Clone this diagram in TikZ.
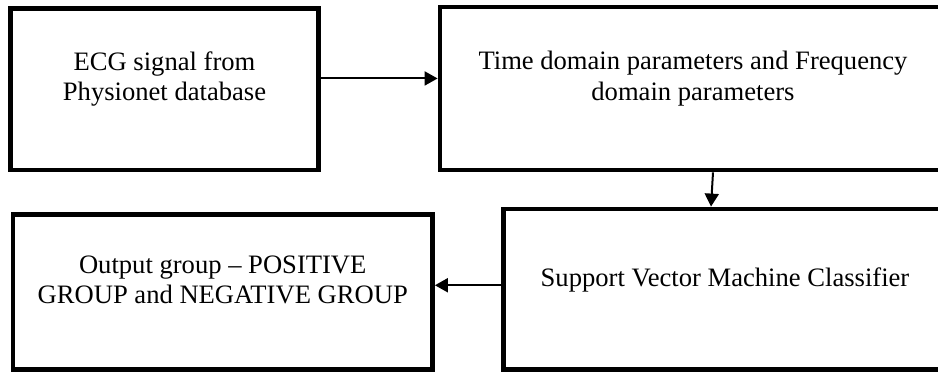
\documentclass[tikz,border=0pt]{standalone}
\usepackage{fontspec}
\setmainfont{Liberation Serif}
\usetikzlibrary{arrows.meta,positioning,calc}

\begin{document}
\begin{tikzpicture}[
    x=0.5pt, y=-0.5pt,
    >={Triangle[length=6.5pt,width=7pt]},
    font=\fontsize{13.3}{15.2}\selectfont,
    block/.style={draw,line width=2.4pt,inner sep=0pt},
    blocktext/.style={align=center,inner sep=0pt},
    flow/.style={->,line width=1pt},
]

% ---------- page frame (right-hand boxes run past the edge) ----------
\clip (0,0) rectangle (938,371);

% ---------- top row: input and feature extraction ----------
\node[block,minimum width=154pt,minimum height=80.75pt] (ecg) at (164.5,89.25) {};
\node[blocktext] (ecgtxt) at ([yshift=5pt]ecg.center) {ECG signal from\\Physionet database};

\node[block,minimum width=253pt,minimum height=81.5pt] (feat) at (693,88.5) {};
\node[blocktext] (feattxt) at ([yshift=5pt]feat.center) {Time domain parameters and Frequency\\domain parameters};

% ---------- bottom row: classifier and output ----------
\node[block,minimum width=221.5pt,minimum height=80.25pt] (svm) at (725,289.25) {};
\node[blocktext] (svmtxt) at ([yshift=4.5pt]svm.center) {Support Vector Machine Classifier};

\node[block,minimum width=209.75pt,minimum height=77.5pt] (out) at (222.75,292) {};
\node[blocktext] (outtxt) at ([yshift=6pt]out.center) {Output group -- POSITIVE\\GROUP and NEGATIVE GROUP};

% ---------- arrows ----------
\draw[flow] ([yshift=5.4pt]ecg.east) -- ([yshift=5.4pt]ecg.east -| feat.west);
\draw[flow] ([xshift=10pt]feat.south) -- ([xshift=-7pt]svm.north);
\draw[flow] ([yshift=2pt]svm.west) -- ([yshift=2pt]svm.west -| out.east);

\end{tikzpicture}
\end{document}
